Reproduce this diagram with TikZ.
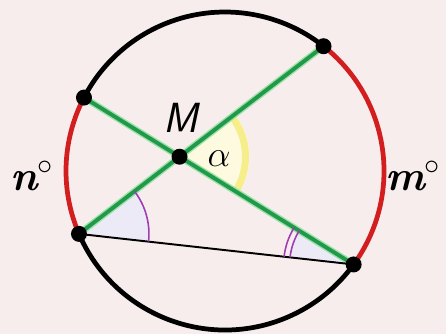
\documentclass[tikz,border=0pt]{standalone}
\usepackage{xcolor}
\usepackage{tikz}
\usetikzlibrary{angles}
\definecolor{PageRose}{HTML}{F8EDED}
\definecolor{ArcRed}{HTML}{D21E1E}
\definecolor{ChordGreen}{HTML}{22984A}
\definecolor{GlowGreen}{HTML}{9BE3A8}
\definecolor{MarkPurple}{HTML}{A23CB4}
\definecolor{SoftBlue}{HTML}{ECEAF6}
\definecolor{AngleYellow}{HTML}{F4EA6E}

\tikzset{
  dot/.style={circle, fill=black, inner sep=0pt, minimum size=0.32cm},
  rim/.style={line width=2.7pt},
  chord/.style={line width=2.2pt, draw=ChordGreen},
  glow/.style={line width=3.8pt, draw=GlowGreen}
}

\begin{document}
\begin{tikzpicture}[x=0.02cm,y=0.02cm, every node/.style={font=\fontsize{24}{24}\selectfont}]
  \fill[PageRose] (0,0) rectangle (446,334);
  \useasboundingbox (0,0) rectangle (446,334);

  \coordinate (O) at (225,163);
  \coordinate (a) at ([shift={(152.5:159)}]O);
  \coordinate (b) at ([shift={(51.7:159)}]O);
  \coordinate (c) at ([shift={(203.3:159)}]O);
  \coordinate (d) at ([shift={(324:159)}]O);
  \coordinate (m) at (intersection of a--d and c--b);

  % angle fills
  \pic[fill=SoftBlue, angle radius=1.4cm] {angle = d--c--b};
  \pic[fill=SoftBlue, angle radius=1.3cm] {angle = a--d--c};
  \pic[fill=AngleYellow!22, angle radius=1.4cm] {angle = d--m--b};
  \pic[draw=AngleYellow!80, line width=4pt, angle radius=1.32cm] {angle = d--m--b};

  % circle
  \draw[rim] (b) arc[start angle=51.7, end angle=152.5, radius=159];
  \draw[rim] (c) arc[start angle=203.3, end angle=324, radius=159];
  \draw[rim, ArcRed] (a) arc[start angle=152.5, end angle=203.3, radius=159];
  \draw[rim, ArcRed] (d) arc[start angle=-36, end angle=51.7, radius=159];

  % chords
  \draw[glow] (a) -- (d);
  \draw[glow] (c) -- (b);
  \draw[chord] (a) -- (d);
  \draw[chord] (c) -- (b);
  \draw[line width=1.1pt] (c) -- (d);

  \pic[draw=MarkPurple, line width=0.9pt, angle radius=1.4cm] {angle = d--c--b};
  \pic[draw=MarkPurple, line width=0.9pt, angle radius=1.28cm] {angle = a--d--c};
  \pic[draw=MarkPurple, line width=0.9pt, angle radius=1.4cm] {angle = a--d--c};

  \node[dot] (A) at (a) {};
  \node[dot] (B) at (b) {};
  \node[dot] (C) at (c) {};
  \node[dot] (D) at (d) {};
  \node[dot] (M) at (m) {};

  \node (Mlab) at (181,216) {\sffamily\itshape M};
  \node (alab) at (219,175) {\fontsize{20}{20}\selectfont$\alpha$};
  \node (nlab) at (32,158) {\bfseries\itshape n${}^\circ$};
  \node (mlab) at (413,158) {\bfseries\itshape m${}^\circ$};
\end{tikzpicture}
\end{document}
